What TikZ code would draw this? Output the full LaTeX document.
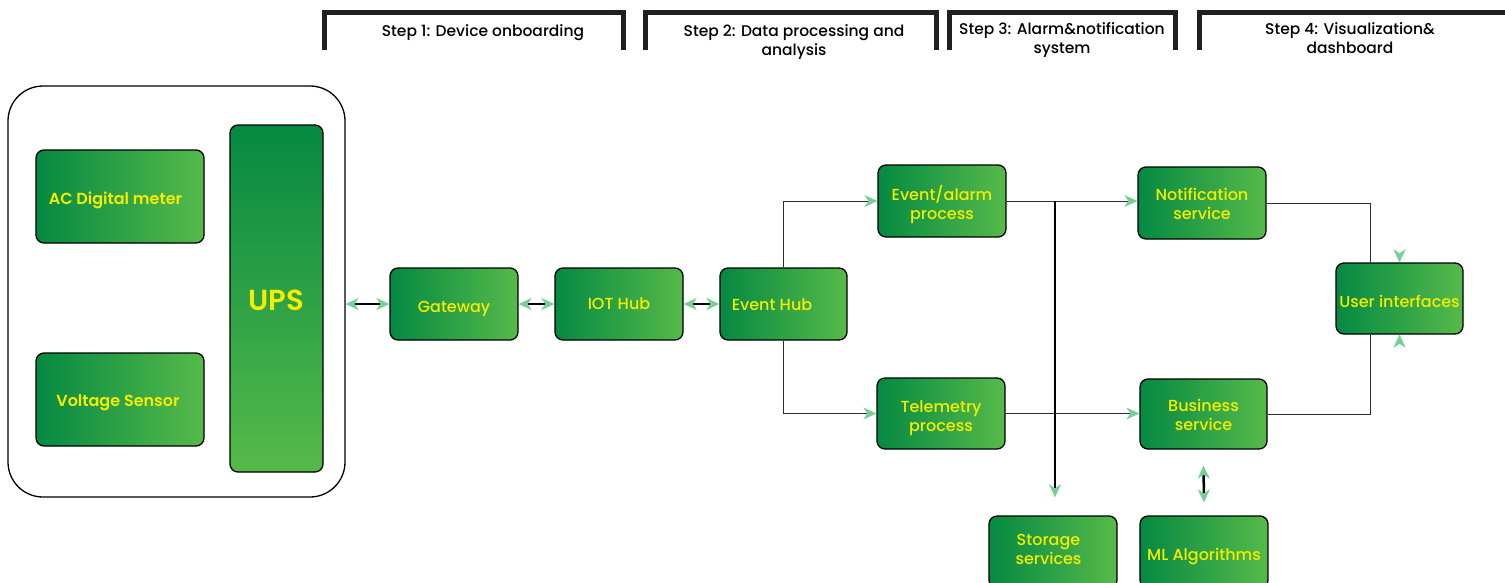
\documentclass[tikz,border=0pt]{standalone}
\usepackage{fontspec}
\setmainfont{Poppins Medium}[BoldFont={Poppins SemiBold}]
\usetikzlibrary{arrows.meta,calc}
\definecolor{dg}{RGB}{5,137,66}
\definecolor{lg}{RGB}{86,186,74}
\definecolor{yel}{RGB}{244,238,0}
\definecolor{ag}{RGB}{118,208,150}
\definecolor{hd}{RGB}{35,31,32}
\definecolor{ln}{RGB}{45,45,45}
\newcommand\sh[2]{\raisebox{#1}[\height][\depth]{#2}}
\tikzset{
  basebox/.style={draw=black, line width=1.3pt, rounded corners=8pt,
    text=yel, font=\fontsize{16}{19}\selectfont, align=center, inner sep=0pt},
  box/.style={basebox, left color=dg, right color=lg},
  bbox/.style={box, font=\bfseries\fontsize{16}{19}\selectfont},
  vbox/.style={basebox, top color=dg, bottom color=lg},
  thickarrow/.style={line width=2pt, black, {Stealth[length=13pt,width=12pt,inset=4pt,color=ag]}-{Stealth[length=13pt,width=12pt,inset=4pt,color=ag]}},
  thinarrow/.style={line width=1pt, ln, -{Stealth[length=13pt,width=12pt,inset=4pt,color=ag]}},
  thinline/.style={line width=1pt, ln},
  bracket/.style={line width=5pt, hd},
  htext/.style={font=\fontsize{15.5}{19}\selectfont, align=center, text=black, inner sep=0pt}
}
\begin{document}
\begin{tikzpicture}[x=1pt,y=-1pt]
\useasboundingbox (0,0) rectangle (1505,582);
% headers
\draw[bracket] (324.5,50) -- (324.5,12.5) -- (623.5,12.5) -- (623.5,50);
\draw[bracket] (645.5,50) -- (645.5,12.5) -- (936.5,12.5) -- (936.5,50);
\draw[bracket] (949.5,50) -- (949.5,12.5) -- (1175.5,12.5) -- (1175.5,50);
\draw[bracket] (1199.5,50) -- (1199.5,12.5) -- (1510,12.5);
\node[htext] (h1) at (483,33) {Step 1: Device onboarding};
\node[htext] (h2) at (794,42.5) {Step 2: Data processing and\\analysis};
\node[htext] (h3) at (1062,40) {Step 3: Alarm\&notification\\system};
\node[htext] (h4) at (1350,38.5) {Step 4: Visualization\&\\dashboard};
% device group
\node[draw=black, line width=1.3pt, rounded corners=35pt, fill=white, minimum width=337pt, minimum height=411pt] (outer) at (176.5,291.5) {};
\node[bbox, minimum width=168pt, minimum height=93pt] (ac) at (120,196.5) {\sh{-4pt}{\hspace*{-9pt}AC Digital meter}};
\node[bbox, minimum width=168pt, minimum height=93pt] (vs) at (120,399.5) {\sh{-3pt}{\hspace*{-4pt}Voltage Sensor}};
\node[vbox, font=\bfseries\fontsize{29}{34}\selectfont, minimum width=93pt, minimum height=347pt] (ups) at (276.5,298.5) {\sh{-2pt}{UPS}};
% main nodes
\node[box, minimum width=128pt, minimum height=72pt] (gw) at (454,304) {\sh{-5pt}{Gateway}};
\node[box, minimum width=128pt, minimum height=72pt] (iot) at (619,304) {IOT Hub};
\node[box, minimum width=127pt, minimum height=72pt] (eh) at (783.5,304) {\sh{-1pt}{Event Hub}\hspace*{23pt}};
\node[box, minimum width=128pt, minimum height=72pt] (ea) at (942,201) {\sh{-3.5pt}{Event/alarm}\\\sh{-3.5pt}{process}};
\node[box, minimum width=128pt, minimum height=71pt] (tp) at (941,413.5) {\sh{-5pt}{Telemetry}\\\sh{-5pt}{process}};
\node[box, minimum width=128pt, minimum height=72pt] (ns) at (1202,203) {\sh{-1pt}{Notification}\\\sh{-1pt}{service}};
\node[box, minimum width=127pt, minimum height=70pt] (bs) at (1203.5,414) {\sh{-1pt}{Business}\\\sh{-1pt}{service}};
\node[box, minimum width=127pt, minimum height=71pt] (ui) at (1399.5,298.5) {\sh{-3pt}{User interfaces}};
\node[box, minimum width=128pt, minimum height=72pt] (ss) at (1053,552) {\sh{3pt}{Storage}\hspace*{9pt}\\\sh{3pt}{services}\hspace*{9pt}};
\node[box, minimum width=128pt, minimum height=72pt] (ml) at (1204,552) {\sh{-5pt}{ML Algorithms}};
% connectors
\draw[thickarrow] (outer.east |- gw.west) -- (gw.west);
\draw[thickarrow] (gw.east) -- (iot.west);
\draw[thickarrow] (iot.east) -- (eh.west);
\draw[thinarrow] (eh.north) |- (ea.west);
\draw[thinarrow] (eh.south) |- (tp.west);
\draw[thinarrow] (ea.east) -- (ea.east -| ns.west);
\draw[thinarrow] (tp.east) -- (tp.east -| bs.west);
\coordinate (st) at ($(ss.north)+(2,-18)$);
\draw[line width=1.8pt, black, -{Stealth[length=13pt,width=12pt,inset=4pt,color=ag]}] (st |- ea.east) -- (st);
\coordinate (uin) at ($(ui.north)+(-29.5,0)$);
\coordinate (uis) at ($(ui.south)+(-29.5,0)$);
\draw[thinline] (ns.east) -| (uin);
\draw[thinline] (bs.east) -| (uis);
\draw[white, line width=0.1pt, -{Stealth[length=13pt,width=12pt,inset=4pt,color=ag]}] ($(ui.north)+(0,-13)$) -- (ui.north);
\draw[white, line width=0.1pt, -{Stealth[length=13pt,width=12pt,inset=4pt,color=ag]}] ($(ui.south)+(0,13)$) -- (ui.south);
\draw[line width=2.5pt, black, {Stealth[length=13pt,width=12pt,inset=4pt,color=ag]}-{Stealth[length=13pt,width=12pt,inset=4pt,color=ag]}] ($(bs.south)+(0,16)$) -- ($(ml.north)+(0,-13)$);
\end{tikzpicture}
\end{document}
